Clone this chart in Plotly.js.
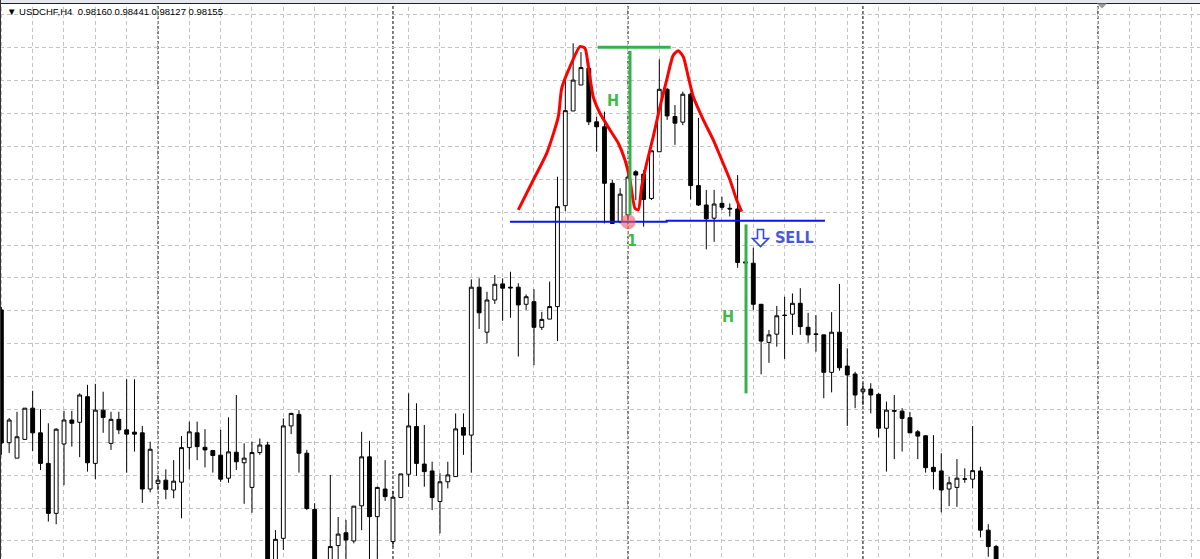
<!DOCTYPE html>
<html>
<head>
<meta charset="utf-8">
<script src="https://cdn.plot.ly/plotly-3.0.1.min.js"></script>
<style>
  html, body { margin: 0; padding: 0; background: #fff; }
  #chart { width: 1200px; height: 559px; }
</style>
</head>
<body>
<div id="chart"></div>
<script>
// ---- USDCHF H4 bars (bar index, OHLC) ----
const symbolTitle = "USDCHF,H4";
const headerQuote = ["0.98160", "0.98441", "0.98127", "0.98155"];

const openPrice = [
  0.98903, 0.98499, 0.98452, 0.98509, 0.98604, 0.98529, 0.98436, 0.98284, 0.98495, 0.98568,
  0.98561, 0.98639, 0.98436, 0.98598, 0.98497, 0.98570, 0.98538, 0.98531, 0.98529, 0.98358,
  0.98375, 0.98385, 0.98355, 0.98379, 0.98484, 0.98529, 0.98485, 0.98475, 0.98461, 0.98391,
  0.98470, 0.98438, 0.98363, 0.98469, 0.98492, 0.98136, 0.98208, 0.98550, 0.98585, 0.98467,
  0.98296, 0.98087, 0.98124, 0.98186, 0.98225, 0.98200, 0.98307, 0.98456, 0.98274, 0.98358,
  0.98198, 0.98332, 0.98403, 0.98548, 0.98434, 0.98413, 0.98320, 0.98380, 0.98396, 0.98545,
  0.98522, 0.98972, 0.98835, 0.98933, 0.98982, 0.98972, 0.98972, 0.98920, 0.98928, 0.98850,
  0.98875, 0.98913, 0.99220, 0.99508, 0.99587, 0.99638, 0.99475, 0.99460, 0.99288, 0.99171,
  0.99192, 0.99323, 0.99316, 0.99242, 0.99384, 0.99574, 0.99491, 0.99474, 0.99559, 0.99281,
  0.99222, 0.99182, 0.99227, 0.99212, 0.99210, 0.99049, 0.99045, 0.98920, 0.98804, 0.98829,
  0.98887, 0.98890, 0.98923, 0.98850, 0.98830, 0.98827, 0.98713, 0.98835, 0.98732, 0.98708,
  0.98654, 0.98662, 0.98646, 0.98543, 0.98597, 0.98595, 0.98575, 0.98532, 0.98520, 0.98424,
  0.98413, 0.98358, 0.98363, 0.98389, 0.98388, 0.98413, 0.98233, 0.98183
];
const highPrice = [
  0.98912, 0.98574, 0.98593, 0.98604, 0.98657, 0.98601, 0.98558, 0.98543, 0.98596, 0.98596,
  0.98649, 0.98675, 0.98678, 0.98654, 0.98593, 0.98593, 0.98692, 0.98692, 0.98550, 0.98502,
  0.98401, 0.98418, 0.98446, 0.98519, 0.98563, 0.98563, 0.98540, 0.98477, 0.98538, 0.98576,
  0.98644, 0.98497, 0.98502, 0.98512, 0.98502, 0.98233, 0.98573, 0.98590, 0.98598, 0.98477,
  0.98315, 0.98136, 0.98401, 0.98273, 0.98264, 0.98306, 0.98532, 0.98505, 0.98365, 0.98446,
  0.98353, 0.98404, 0.98649, 0.98619, 0.98553, 0.98441, 0.98406, 0.98441, 0.98588, 0.98588,
  0.98996, 0.98999, 0.98958, 0.99009, 0.98999, 0.99019, 0.98984, 0.98950, 0.98966, 0.98897,
  0.98989, 0.99308, 0.99604, 0.99714, 0.99687, 0.99657, 0.99491, 0.99506, 0.99298, 0.99273,
  0.99316, 0.99328, 0.99328, 0.99387, 0.99665, 0.99578, 0.99526, 0.99567, 0.99563, 0.99487,
  0.99268, 0.99268, 0.99247, 0.99227, 0.99313, 0.99061, 0.99092, 0.98921, 0.98842, 0.98915,
  0.98943, 0.98953, 0.98969, 0.98894, 0.98887, 0.98827, 0.98896, 0.98982, 0.98786, 0.98715,
  0.98680, 0.98680, 0.98650, 0.98624, 0.98644, 0.98604, 0.98593, 0.98538, 0.98522, 0.98522,
  0.98467, 0.98396, 0.98449, 0.98421, 0.98550, 0.98426, 0.98251, 0.98188
];
const lowPrice = [
  0.98462, 0.98468, 0.98452, 0.98507, 0.98474, 0.98416, 0.98259, 0.98251, 0.98370, 0.98487,
  0.98455, 0.98411, 0.98388, 0.98529, 0.98477, 0.98525, 0.98408, 0.98472, 0.98316, 0.98348,
  0.98355, 0.98327, 0.98330, 0.98269, 0.98418, 0.98446, 0.98424, 0.98408, 0.98380, 0.98377,
  0.98416, 0.98313, 0.98286, 0.98462, 0.98097, 0.98124, 0.98173, 0.98525, 0.98408, 0.98294,
  0.98081, 0.98066, 0.98112, 0.98133, 0.98136, 0.98193, 0.98233, 0.98136, 0.98136, 0.98322,
  0.98183, 0.98332, 0.98365, 0.98398, 0.98365, 0.98294, 0.98223, 0.98360, 0.98396, 0.98462,
  0.98408, 0.98845, 0.98801, 0.98921, 0.98870, 0.98879, 0.98761, 0.98903, 0.98735, 0.98842,
  0.98875, 0.98808, 0.99204, 0.99508, 0.99587, 0.99465, 0.99384, 0.99166, 0.99164, 0.99166,
  0.99176, 0.99237, 0.99156, 0.99237, 0.99384, 0.99481, 0.99405, 0.99465, 0.99239, 0.99219,
  0.99087, 0.99110, 0.99207, 0.99187, 0.99031, 0.99034, 0.98903, 0.98707, 0.98742, 0.98791,
  0.98754, 0.98827, 0.98827, 0.98803, 0.98776, 0.98634, 0.98652, 0.98718, 0.98550, 0.98604,
  0.98614, 0.98588, 0.98515, 0.98411, 0.98449, 0.98472, 0.98528, 0.98449, 0.98408, 0.98357,
  0.98287, 0.98306, 0.98304, 0.98377, 0.98360, 0.98211, 0.98152, 0.98127
];
const closePrice = [
  0.98498, 0.98568, 0.98517, 0.98604, 0.98529, 0.98436, 0.98284, 0.98540, 0.98568, 0.98558,
  0.98644, 0.98438, 0.98598, 0.98576, 0.98570, 0.98538, 0.98525, 0.98525, 0.98358, 0.98479,
  0.98385, 0.98357, 0.98382, 0.98484, 0.98532, 0.98487, 0.98477, 0.98460, 0.98388, 0.98471,
  0.98441, 0.98452, 0.98469, 0.98492, 0.98118, 0.98205, 0.98550, 0.98588, 0.98467, 0.98299,
  0.98106, 0.98124, 0.98183, 0.98221, 0.98203, 0.98306, 0.98456, 0.98274, 0.98363, 0.98335,
  0.98333, 0.98404, 0.98550, 0.98436, 0.98411, 0.98332, 0.98380, 0.98401, 0.98541, 0.98522,
  0.98972, 0.98894, 0.98933, 0.98981, 0.98969, 0.98970, 0.98918, 0.98943, 0.98850, 0.98874,
  0.98913, 0.99217, 0.99509, 0.99602, 0.99640, 0.99475, 0.99460, 0.99288, 0.99166, 0.99255,
  0.99307, 0.99313, 0.99239, 0.99387, 0.99574, 0.99493, 0.99471, 0.99559, 0.99281, 0.99222,
  0.99180, 0.99225, 0.99215, 0.99210, 0.99047, 0.99046, 0.98920, 0.98808, 0.98827, 0.98885,
  0.98886, 0.98923, 0.98852, 0.98827, 0.98828, 0.98713, 0.98835, 0.98727, 0.98705, 0.98644,
  0.98662, 0.98644, 0.98543, 0.98598, 0.98595, 0.98573, 0.98529, 0.98519, 0.98423, 0.98411,
  0.98355, 0.98377, 0.98391, 0.98388, 0.98414, 0.98233, 0.98183, 0.98136
];
const barIndex = openPrice.map((_, i) => i);

// week start bars (period separators)
const weekStartBars = [20, 50, 80, 110, 140];

// ---- hand-drawn head & shoulders annotation (bar index, price) ----
const redCurveBar = [66.00, 67.91, 69.62, 71.11, 71.54, 72.60, 73.87, 74.51, 74.94, 75.57, 76.43, 77.71, 78.77, 79.62, 80.26, 80.90, 81.32, 81.75, 82.39, 83.23, 84.09, 84.94, 85.79, 86.42, 87.06, 87.70, 88.34, 89.62, 90.89, 91.97, 93.03, 93.88, 94.52];
const redCurvePrice = [0.99207, 0.99298, 0.99379, 0.99491, 0.99577, 0.99643, 0.99704, 0.99699, 0.99643, 0.99551, 0.99501, 0.99450, 0.99410, 0.99359, 0.99298, 0.99212, 0.99207, 0.99278, 0.99349, 0.99430, 0.99521, 0.99602, 0.99678, 0.99691, 0.99673, 0.99612, 0.99551, 0.99481, 0.99420, 0.99359, 0.99298, 0.99237, 0.99202];

const necklineBar = [64.94, 84.94, 84.94, 105.15];
const necklinePrice = [0.99171, 0.99171, 0.99174, 0.99174];

const heightTopBar = [76.13, 85.45];
const heightTopPrice = [0.99702, 0.99702];
const heightLeftBar = [80.26, 80.26];
const heightLeftPrice = [0.99691, 0.99192];
const heightTargetBar = [95.07, 95.07];
const heightTargetPrice = [0.98649, 0.99163];

const breakPointBar = [80.04];
const breakPointPrice = [0.99171];

const labelText = ["H", "H", "1", "SELL"];
const labelBar = [78.13, 92.73, 80.55, 101.23];
const labelPrice = [0.99541, 0.98884, 0.99114, 0.99124];

// ---- traces ----
const green = '#34b24a';
const traces = [
  {
    type: 'candlestick',
    x: barIndex, open: openPrice, high: highPrice, low: lowPrice, close: closePrice,
    increasing: { line: { color: '#000', width: 1 }, fillcolor: '#ffffff' },
    decreasing: { line: { color: '#000', width: 1 }, fillcolor: '#000000' },
    whiskerwidth: 0,
    hoverinfo: 'skip'
  },
  { type: 'scatter', mode: 'lines', x: redCurveBar, y: redCurvePrice,
    line: { color: '#ff0000', width: 3, shape: 'spline', smoothing: 0.6 }, hoverinfo: 'skip' },
  { type: 'scatter', mode: 'lines', x: necklineBar, y: necklinePrice,
    line: { color: '#0a14f0', width: 2 }, hoverinfo: 'skip' },
  { type: 'scatter', mode: 'lines', x: heightTopBar, y: heightTopPrice,
    line: { color: green, width: 3 }, hoverinfo: 'skip' },
  { type: 'scatter', mode: 'lines', x: heightLeftBar, y: heightLeftPrice,
    line: { color: green, width: 3 }, hoverinfo: 'skip' },
  { type: 'scatter', mode: 'lines', x: heightTargetBar, y: heightTargetPrice,
    line: { color: green, width: 3 }, hoverinfo: 'skip' },
  { type: 'scatter', mode: 'markers', x: breakPointBar, y: breakPointPrice,
    marker: { color: 'rgba(240,90,90,0.6)', size: 15, line: { width: 0 } }, hoverinfo: 'skip' }
];

// ---- layout ----
const H = 559, W = 1200;
const px = v => v / W, py = v => 1 - v / H;
const shapes = weekStartBars.map(b => ({
  type: 'line', xref: 'x', yref: 'paper', x0: b, x1: b, y0: 0, y1: 1,
  line: { color: '#000', width: 1, dash: '3px,2px' }, layer: 'below'
}));
// terminal title strip, frame border and chart-shift marker
shapes.push({ type: 'rect', xref: 'paper', yref: 'paper', x0: 0, x1: 1, y0: py(3), y1: 1,
  fillcolor: '#e4e7ee', line: { width: 0 } });
shapes.push({ type: 'line', xref: 'paper', yref: 'paper', x0: 0, x1: 1, y0: py(3.5), y1: py(3.5),
  line: { color: '#222', width: 1 } });
shapes.push({ type: 'line', xref: 'paper', yref: 'paper', x0: px(0.5), x1: px(0.5), y0: 0, y1: 1,
  line: { color: '#333', width: 1 } });
shapes.push({ type: 'path', xref: 'paper', yref: 'paper',
  path: `M ${px(1097)} ${py(3.5)} L ${px(1107)} ${py(3.5)} L ${px(1102)} ${py(8.5)} Z`,
  fillcolor: '#9a9a9a', line: { width: 0 } });
// hollow "sell" arrow
shapes.push({ type: 'path', xref: 'paper', yref: 'paper',
  path: `M ${px(757.5)} ${py(229.5)} L ${px(763.5)} ${py(229.5)} L ${px(763.5)} ${py(238.5)} L ${px(768.5)} ${py(238.5)} L ${px(760.5)} ${py(246.5)} L ${px(752.5)} ${py(238.5)} L ${px(757.5)} ${py(238.5)} Z`,
  fillcolor: 'rgba(255,255,255,0.9)', line: { color: '#2f4ae6', width: 1.6 } });

const narrow = 'Liberation Sans Narrow, DejaVu Sans Condensed, sans-serif';
const labelFonts = [
  { family: narrow, size: 16, color: '#3fb94a' },
  { family: narrow, size: 16, color: '#3fb94a' },
  { family: narrow, size: 16, color: '#3fb94a' },
  { family: narrow, size: 16, color: '#4b58d6' }
];
const annotations = labelText.map((t, i) => ({
  x: labelBar[i], y: labelPrice[i], xref: 'x', yref: 'y',
  text: '<b>' + t + '</b>', showarrow: false,
  font: labelFonts[i], xanchor: 'center', yanchor: 'middle'
}));
annotations.push({
  xref: 'paper', yref: 'paper', x: px(5), y: py(11.5), xanchor: 'left', yanchor: 'middle',
  showarrow: false,
  text: '\u25BC\u00A0' + symbolTitle + '\u00A0\u00A0' + headerQuote.join('\u00A0'),
  font: { family: 'Liberation Sans, Arial, sans-serif', size: 9.5, color: '#000' }
});

const layout = {
  width: W, height: H,
  margin: { l: 0, r: 0, t: 0, b: 0, pad: 0 },
  paper_bgcolor: '#ffffff', plot_bgcolor: '#ffffff',
  showlegend: false,
  dragmode: false,
  boxgap: 0.3,
  xaxis: {
    range: [-0.17, 153.03], tick0: 0, dtick: 4,
    showgrid: true, gridcolor: '#c4c4c4', gridwidth: 1, griddash: '4px,3px',
    zeroline: false, showticklabels: false, ticks: '', showline: false,
    rangeslider: { visible: false }, fixedrange: true
  },
  yaxis: {
    range: [0.981452, 0.998456], tick0: 0.982, dtick: 0.001,
    showgrid: true, gridcolor: '#c4c4c4', gridwidth: 1, griddash: '4px,3px',
    zeroline: false, showticklabels: false, ticks: '', showline: false, fixedrange: true
  },
  shapes: shapes,
  annotations: annotations
};

Plotly.newPlot('chart', traces, layout, { staticPlot: true, displayModeBar: false });
</script>
</body>
</html>
